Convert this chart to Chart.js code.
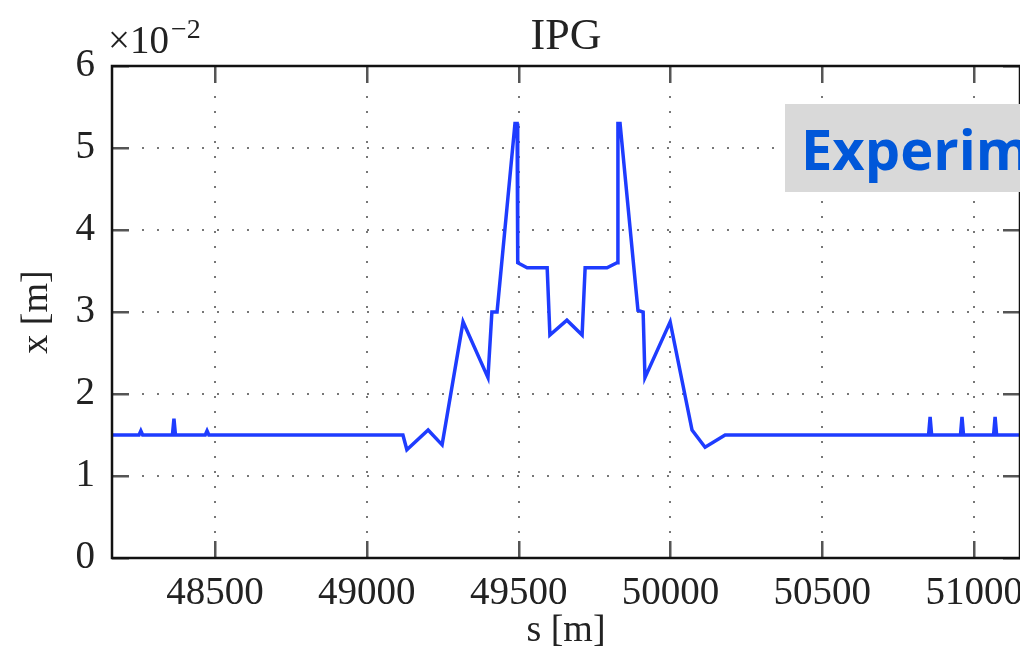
<!DOCTYPE html>
<html>
<head>
<meta charset="utf-8">
<script src="https://cdn.jsdelivr.net/npm/chart.js@4/dist/chart.umd.min.js"></script>
<style>
  body { margin: 0; overflow: hidden; background: #fff; }
  #wrap { position: relative; width: 1020px; height: 652px; overflow: hidden; }
  #badge {
    position: absolute; left: 785px; top: 104px; width: 300px; height: 88px;
    background: #d9d9d9; color: #0057d9;
    font: bold 56px "Open Sans", sans-serif; line-height: 88px;
    padding-left: 16px; white-space: nowrap; box-sizing: border-box;
  }
</style>
</head>
<body>
<div id="wrap">
  <canvas id="myChart" width="1040" height="652"></canvas>
  <div id="badge">Experimental</div>
</div>
<script>
'use strict';
// s position [m] and horizontal beam size x [m]
let sPos = [48161, 48250, 48256, 48262, 48360, 48365, 48370, 48468, 48474, 48480,
    49119, 49132, 49202, 49248, 49317, 49399, 49412, 49429, 49488, 49495, 49497,
    49528, 49594, 49603, 49659, 49709, 49719, 49791, 49824, 49827, 49834,
    49893, 49910, 49916, 49999, 50071, 50114, 50180,
    50850, 50855, 50860, 50955, 50960, 50965, 51064, 51069, 51074, 51151];
let xSize = [0.0150, 0.0150, 0.0155, 0.0150, 0.0150, 0.0170, 0.0150, 0.0150, 0.0155, 0.0150,
    0.0150, 0.0132, 0.0156, 0.0138, 0.0288, 0.0220, 0.0300, 0.0300, 0.0530, 0.0530, 0.0360,
    0.0354, 0.0354, 0.0272, 0.0290, 0.0272, 0.0354, 0.0354, 0.0360, 0.0530, 0.0530,
    0.0302, 0.0300, 0.0220, 0.0288, 0.0156, 0.0135, 0.0150,
    0.0150, 0.0172, 0.0150, 0.0150, 0.0172, 0.0150, 0.0150, 0.0172, 0.0150, 0.0150];
let sTicks = [48500, 49000, 49500, 50000, 50500, 51000];
let yTicks = [0, 0.01, 0.02, 0.03, 0.04, 0.05, 0.06];
let titleText = 'IPG';

let points = [];
for (let i = 0; i < sPos.length; i++) {
    points.push({ x: sPos[i], y: xSize[i] });
}

let serif = '"Liberation Serif", "DejaVu Serif", serif';

// box, inward ticks, title and exponent label
let frame = {
    id: 'frame',
    afterDraw(chart) {
        let c = chart.ctx;
        let a = chart.chartArea;
        let xs = chart.scales.x;
        let ys = chart.scales.y;
        c.save();
        c.setLineDash([]);
        c.fillStyle = '#555';
        for (let v of sTicks) {
            let px = Math.round(xs.getPixelForValue(v));
            c.fillRect(px - 1, a.bottom - 17, 2.5, 17);
            c.fillRect(px - 1, a.top, 2.5, 17);
        }
        for (let v of yTicks) {
            let py = Math.round(ys.getPixelForValue(v));
            c.fillRect(a.left, py - 1, 17, 2.5);
            c.fillRect(a.right - 17, py - 1, 17, 2.5);
        }
        c.strokeStyle = '#111';
        c.lineWidth = 2.5;
        c.strokeRect(a.left, a.top, a.right - a.left, a.bottom - a.top);

        c.fillStyle = '#222';
        c.textBaseline = 'alphabetic';
        c.font = '44px ' + serif;
        c.textAlign = 'center';
        c.fillText(titleText, (a.left + a.right) / 2, 49);
        c.textAlign = 'left';
        c.font = '39px ' + serif;
        c.fillText('\u00d710', 108, 53);
        let w = c.measureText('\u00d710').width;
        c.font = '28px ' + serif;
        c.fillText('\u22122', 108 + w + 2, 38);
        c.restore();
    }
};

let ctx = document.getElementById('myChart').getContext('2d');
let myChart = new Chart(ctx, {
    type: 'line',
    data: {
        datasets: [{
            data: points,
            borderColor: '#1e3cff',
            borderWidth: 3.5,
            pointRadius: 0,
            tension: 0,
            fill: false
        }]
    },
    options: {
        responsive: false,
        animation: false,
        layout: { padding: { top: 66, right: 20, left: 0, bottom: 0 } },
        plugins: { legend: { display: false }, tooltip: { enabled: false } },
        scales: {
            x: {
                type: 'linear',
                min: 48161,
                max: 51151,
                afterBuildTicks: scale => {
                    scale.ticks = sTicks.map(v => ({ value: v }));
                },
                afterFit: scale => { scale.height = 94; },
                grid: { color: '#777', lineWidth: 2, drawTicks: false },
                border: { display: false, dash: [2, 13] },
                ticks: {
                    color: '#222', padding: 12, maxRotation: 0,
                    font: { family: serif, size: 39 },
                    callback: v => String(v)
                },
                title: {
                    display: true, text: 's [m]', color: '#222',
                    font: { family: serif, size: 38, lineHeight: 1 },
                    padding: { top: 0, bottom: 2 }
                }
            },
            y: {
                min: 0,
                max: 0.06,
                ticks: {
                    stepSize: 0.01, color: '#222', padding: 17,
                    font: { family: serif, size: 39 },
                    callback: v => String(Math.round(v * 100))
                },
                afterFit: scale => { scale.width = 112; },
                grid: { color: '#777', lineWidth: 2, drawTicks: false },
                border: { display: false, dash: [2, 13] },
                title: {
                    display: true, text: 'x [m]', color: '#222',
                    font: { family: serif, size: 38, lineHeight: 1 },
                    padding: { top: 18, bottom: 0 }
                }
            }
        }
    },
    plugins: [frame]
});
</script>
</body>
</html>
